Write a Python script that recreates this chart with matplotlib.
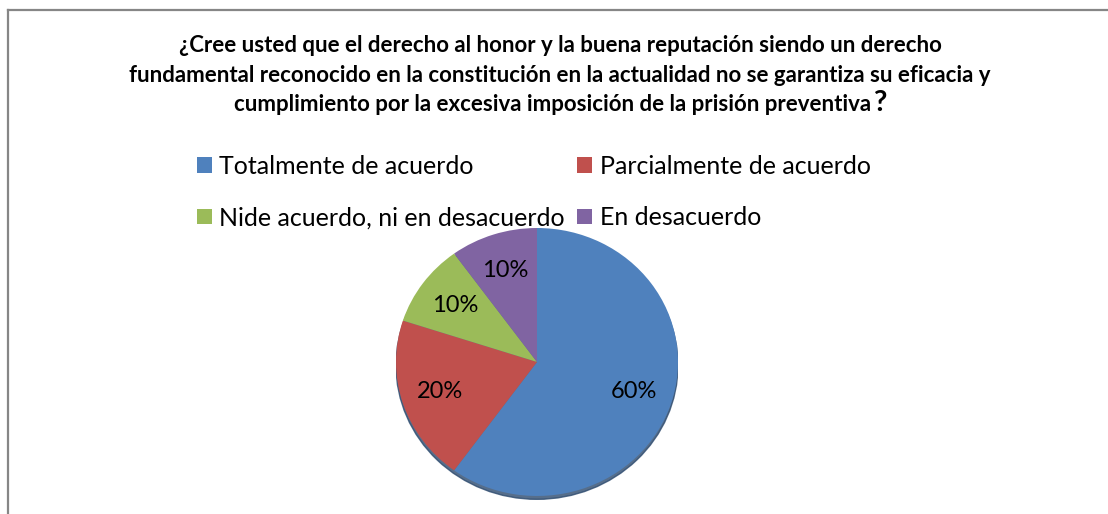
import matplotlib
matplotlib.use("Agg")
import matplotlib.pyplot as plt
from matplotlib.lines import Line2D
from matplotlib.patches import Ellipse

# Chart data
categories = ["Totalmente de acuerdo", "Parcialmente de acuerdo",
              "Nide acuerdo, ni en desacuerdo", "En desacuerdo"]
values = [60, 20, 10, 10]
colors = ["#4F81BD", "#C0504D", "#9BBB59", "#8064A2"]
title_lines = ["¿Cree usted que el derecho al honor y la buena reputación siendo un derecho",
               "fundamental reconocido en la constitución en la actualidad no se garantiza su eficacia y",
               "cumplimiento por la excesiva imposición de la prisión preventiva"]

plt.rcParams['font.family'] = ['Lato', 'DejaVu Sans']

W, H = 1108, 514
fig = plt.figure(figsize=(W / 100, H / 100), dpi=100)

# Chart frame (only left and top edges visible)
fig.add_artist(Line2D([8 / W, 8 / W], [0, 1 - 10 / H], color="#868686", lw=1.6))
fig.add_artist(Line2D([8 / W, 1], [1 - 10 / H, 1 - 10 / H], color="#868686", lw=1.6))

# Title, one text per line; the closing "?" is drawn larger
title_y = [45, 75, 105]
for line, y in zip(title_lines, title_y):
    fig.text(560 / W, 1 - y / H, line, ha="center", va="center",
             fontsize=16, fontweight="bold")
renderer = fig.canvas.get_renderer()
last = fig.texts[-1]
last.set_x((560 - 7) / W)
bb = last.get_window_extent(renderer)
fig.text(bb.x1 / W + 1 / W, 1 - 103 / H, "?", ha="left", va="center",
         fontsize=21, fontweight="bold")

# Pie
ax = fig.add_axes([(537 - 141) / W, (514 - 500) / H, 282 / W, 272 / H])
ax.add_patch(Ellipse((0.0, -0.025), 2.0, 2.0, color="#2C4A6E", alpha=0.8, zorder=0))
wedges, texts, autotexts = ax.pie(values, colors=colors, startangle=90, counterclock=False,
                                  autopct="%d%%", pctdistance=0.72,
                                  wedgeprops=dict(linewidth=0), radius=1.0)
for t in autotexts:
    t.set_fontsize(17)
    t.set_color("black")
ax.set_xlim(-1.0, 1.0)
ax.set_ylim(-1.03, 1.0)
ax.set_aspect("auto")
ax.axis("off")

# Legend, filled row by row like the original
order = [0, 2, 1, 3]
fig.legend([wedges[i] for i in order], [categories[i] for i in order], ncol=2,
           loc="upper left", bbox_to_anchor=(174 / W, 1 - 132 / H),
           frameon=False, fontsize=18, handlelength=0.6, handleheight=0.6,
           handletextpad=0.3, columnspacing=0.5, labelspacing=1.15)

fig.savefig("out.png", dpi=100)
